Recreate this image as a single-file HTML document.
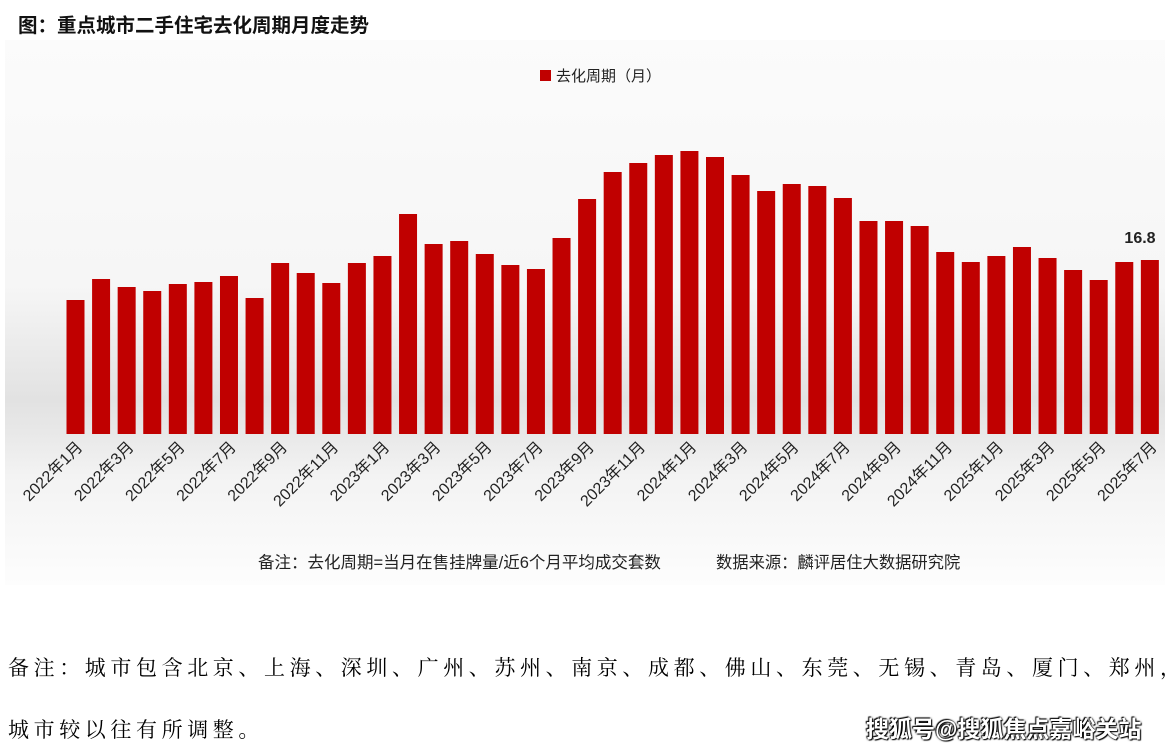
<!DOCTYPE html>
<html><head><meta charset="utf-8"><style>
body{margin:0;width:1171px;height:753px;background:#fff;overflow:hidden;position:relative;font-family:"Liberation Sans","Noto Sans CJK SC",sans-serif}
.note{position:absolute;left:8px;font-family:"Liberation Serif","Noto Serif CJK SC",serif;font-size:21px;letter-spacing:4.6px;color:#000;white-space:nowrap}
</style></head><body>
<svg width="1171" height="600" style="position:absolute;left:0;top:0">
<defs><linearGradient id="g" x1="0" y1="0" x2="0" y2="1">
<stop offset="0" stop-color="#fbfbfb"/><stop offset="0.45" stop-color="#f6f6f6"/><stop offset="0.66" stop-color="#e2e2e2"/><stop offset="0.72" stop-color="#e8e8e8"/><stop offset="0.8" stop-color="#f3f3f3"/><stop offset="1" stop-color="#fdfdfd"/></linearGradient></defs>
<rect x="5" y="40" width="1160" height="545" fill="url(#g)"/>
<text x="18" y="32" font-size="19.5" font-weight="bold" fill="#111">图：重点城市二手住宅去化周期月度走势</text>
<rect x="540" y="70" width="11" height="11" fill="#c00000"/>
<text x="556" y="81" font-size="15" fill="#222">去化周期（月）</text>
<g id="bars" fill="#c00000"></g>
<g id="labs" font-size="16" fill="#222"></g>
<text x="1140" y="243" font-size="16" font-weight="bold" fill="#222" text-anchor="middle">16.8</text>
<text x="258" y="568" font-size="16.5" fill="#222">备注：去化周期=当月在售挂牌量/近6个月平均成交套数</text>
<text x="716" y="568" font-size="16.3" fill="#222">数据来源：麟评居住大数据研究院</text>
</svg>
<div class="note" style="top:652px">备注：城市包含北京、上海、深圳、广州、苏州、南京、成都、佛山、东莞、无锡、青岛、厦门、郑州，</div>
<div class="note" style="top:714px">城市较以往有所调整。</div>
<div style="position:absolute;left:866px;top:710px;font-size:23px;font-weight:bold;color:#fff;text-shadow:0 0 2px #000,1px 1px 1px #000,-1px -1px 1px #000;white-space:nowrap">搜狐号@搜狐焦点嘉峪关站</div>
<script>
var tops=[300,279,287,291,284,282,276,298,263,273,283,263,256,214,244,241,254,265,269,238,199,172,163,155,151,157,175,191,184,186,198,221,221,226,252,262,256,247,258,270,280,262,260];
var b='',l='';
for(var i=0;i<tops.length;i++){var cx=75.5+i*25.58;
b+='<rect x="'+(cx-9)+'" y="'+tops[i]+'" width="18" height="'+(434-tops[i])+'"/>';
if(i%2==0){var y=2022+Math.floor(i/12),m=i%12+1;
l+='<text text-anchor="end" transform="translate('+(cx+8)+',448) rotate(-45)">'+y+'年'+m+'月</text>';}}
document.getElementById('bars').innerHTML=b;document.getElementById('labs').innerHTML=l;
</script>
</body></html>
